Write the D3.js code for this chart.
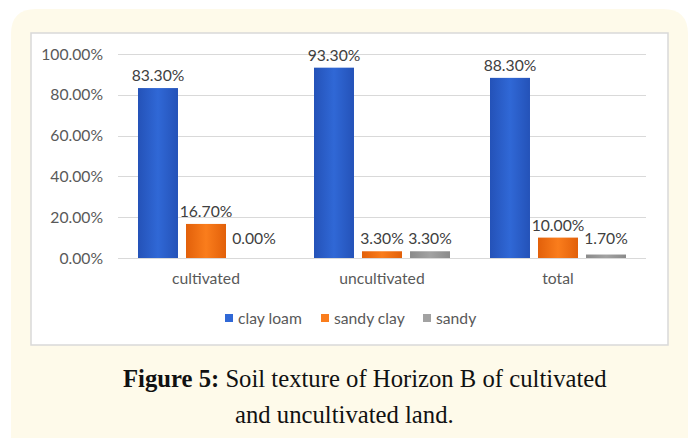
<!DOCTYPE html>
<html><head><meta charset="utf-8">
<script src="https://cdn.jsdelivr.net/npm/d3@7"></script>
<style>html,body{margin:0;padding:0;background:#fff;}svg{display:block;}</style>
</head><body>
<svg id="c" width="690" height="438"></svg>
<script>
const categories = ["cultivated", "uncultivated", "total"];
const seriesNames = ["clay loam", "sandy clay", "sandy"];
const clayLoam = [83.3, 93.3, 88.3];
const sandyClay = [16.7, 3.3, 10.0];
const sandy = [0.0, 3.3, 1.7];
const yTicks = [0, 20, 40, 60, 80, 100];
const captionBold = "Figure 5:";
const captionRest = " Soil texture of Horizon B of cultivated";
const captionLine2 = "and uncultivated land.";

const seriesValues = [clayLoam, sandyClay, sandy];
const colors = [["#2452b8", "#3068d6"], ["#e2600a", "#fa7d1c"], ["#8a8a8a", "#a2a2a2"]];

const svg = d3.select("#c");
const defs = svg.append("defs");
colors.forEach((c, i) => {
  const g = defs.append("linearGradient").attr("id", "g" + i).attr("x1", 0).attr("x2", 1).attr("y1", 0).attr("y2", 0);
  g.append("stop").attr("offset", "0%").attr("stop-color", c[0]);
  g.append("stop").attr("offset", "50%").attr("stop-color", c[1]);
  g.append("stop").attr("offset", "100%").attr("stop-color", c[0]);
});

// cream panel
svg.append("path").attr("fill", "#fefaea")
  .attr("d", "M11,438 L11,34 Q11,9 36,9 L663,9 Q688,9 688,34 L688,438 Z");
// white chart box
svg.append("rect").attr("x", 31).attr("y", 33).attr("width", 637).attr("height", 312)
  .attr("fill", "#fff").attr("stroke", "#d9d9d9").attr("stroke-width", 1.5);

const plot = {left: 118, right: 646, top: 54, bottom: 258};
const y = d3.scaleLinear().domain([0, 100]).range([plot.bottom, plot.top]);
const x0 = d3.scaleBand().domain(categories).range([plot.left, plot.right]).padding(0);
const x1 = d3.scaleBand().domain(seriesNames).range([20, x0.bandwidth() - 20]).paddingInner(0.167).paddingOuter(0);

const font = "Lato, 'Open Sans', sans-serif";
const fsz = 15.7;

// grid
svg.append("g").selectAll("line").data(yTicks).join("line")
  .attr("x1", plot.left).attr("x2", plot.right)
  .attr("y1", d => Math.round(y(d)) + 0.5).attr("y2", d => Math.round(y(d)) + 0.5)
  .attr("stroke", "#d9d9d9").attr("stroke-width", 1);

// y axis labels
const yAxis = d3.axisLeft(y).tickValues(yTicks).tickSize(0).tickPadding(0)
  .tickFormat(d => d.toFixed(2) + "%");
const ya = svg.append("g").attr("transform", "translate(103,0)").call(yAxis);
ya.select(".domain").remove();
ya.selectAll("text").attr("font-family", font).attr("font-size", fsz).attr("fill", "#595959");

// bars
seriesNames.forEach((s, si) => {
  const g = svg.append("g");
  g.selectAll("rect").data(categories).join("rect")
    .attr("x", c => x0(c) + x1(s))
    .attr("width", x1.bandwidth())
    .attr("y", (c, i) => y(seriesValues[si][i]))
    .attr("height", (c, i) => y(0) - y(seriesValues[si][i]))
    .attr("fill", "url(#g" + si + ")");
  g.selectAll("text").data(categories).join("text")
    .attr("x", c => x0(c) + x1(s) + x1.bandwidth() / 2)
    .attr("y", (c, i) => Math.min(y(seriesValues[si][i]) - 7, 244))
    .attr("text-anchor", "middle")
    .attr("font-family", font).attr("font-size", fsz).attr("fill", "#404040")
    .text((c, i) => seriesValues[si][i].toFixed(2) + "%");
});

// x axis category labels
const xAxis = d3.axisBottom(x0).tickSize(0).tickPadding(0);
const xa = svg.append("g").attr("transform", "translate(0,273)").call(xAxis);
xa.select(".domain").remove();
xa.selectAll("text").attr("font-family", font).attr("font-size", fsz).attr("fill", "#595959");

// legend
const legX = [225, 321, 423];
const leg = svg.append("g");
seriesNames.forEach((s, i) => {
  leg.append("rect").attr("x", legX[i]).attr("y", 314).attr("width", 8).attr("height", 8)
    .attr("fill", colors[i][1]);
  leg.append("text").attr("x", legX[i] + 13).attr("y", 323.5)
    .attr("font-family", font).attr("font-size", fsz).attr("fill", "#595959").text(s);
});

// caption
const serif = "'Liberation Serif', serif";
const cap = svg.append("text").attr("x", 123).attr("y", 387)
  .attr("font-family", serif).attr("font-size", 20).attr("fill", "#111");
cap.append("tspan").attr("font-weight", "bold").text(captionBold);
cap.append("tspan").text(captionRest);
// fit caption width to ~484px
const w = cap.node().getComputedTextLength();
const fs = 20 * 484 / w;
cap.attr("font-size", fs);
const cap2 = svg.append("text").attr("x", 235).attr("y", 423)
  .attr("font-family", serif).attr("font-size", fs).attr("fill", "#111").text(captionLine2);
</script>
</body></html>
